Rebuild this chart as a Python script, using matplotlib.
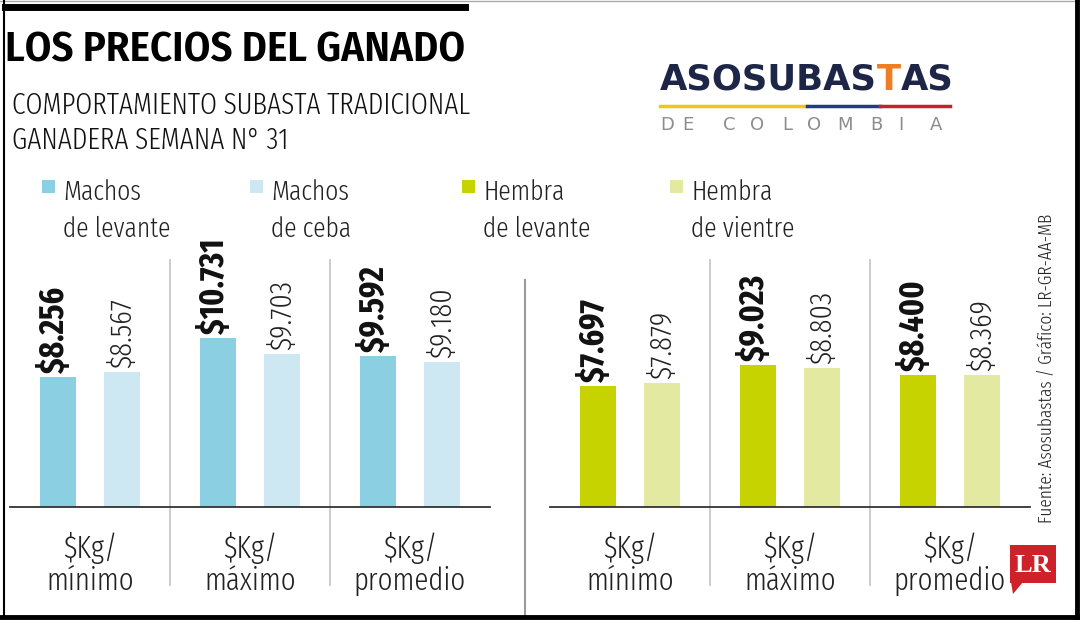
import matplotlib

matplotlib.use("Agg")
import matplotlib.pyplot as plt
from matplotlib.lines import Line2D
from matplotlib.patches import Polygon, Rectangle

COND = ["Fira Sans Extra Condensed", "Fira Sans Condensed", "Asap Condensed", "Barlow Condensed",
        "Saira ExtraCondensed", "DejaVu Sans"]
SEMI = ["Fira Sans Condensed", "Fira Sans", "Lato", "DejaVu Sans"]
plt.rcParams["font.family"] = COND

categorias = ["$Kg/\nmínimo", "$Kg/\nmáximo", "$Kg/\npromedio"]
machos_levante = [8256, 10731, 9592]
machos_ceba = [8567, 9703, 9180]
hembra_levante = [7697, 9023, 8400]
hembra_vientre = [7879, 8803, 8369]
series = ["Machos\nde levante", "Machos\nde ceba", "Hembra\nde levante", "Hembra\nde vientre"]
colores = ["#8bcfe3", "#cde8f2", "#c6d300", "#e3e9a1"]

W, H = 1080, 620
fig = plt.figure(figsize=(W / 100, H / 100), dpi=100)


def fx(px):
    return px / W


def fy(py):
    return 1 - py / H


def fmt(v):
    return f"${v:,}".replace(",", ".")


def fline(x0, y0, x1, y1, **kw):
    fig.add_artist(Line2D([fx(x0), fx(x1)], [fy(y0), fy(y1)], transform=fig.transFigure, **kw))


def fit_width(t, target):
    # ajusta el tamaño de letra para que el texto ocupe el ancho del original
    fig.canvas.draw()
    w = t.get_window_extent().width
    t.set_fontsize(t.get_fontsize() * target / w)


def panel(left, a, b, ca, cb):
    ax = fig.add_axes([fx(left), fy(507), 480 / W, 252 / H])
    x = list(range(len(categorias)))
    ax.bar([i - 0.2 for i in x], a, width=0.222, color=ca)
    ax.bar([i + 0.2 for i in x], b, width=0.222, color=cb)
    for i, v in enumerate(a):
        ax.annotate(fmt(v), (i - 0.22, v), xytext=(0, 3), textcoords="offset points",
                    rotation=90, ha="center", va="bottom", fontsize=24.5, fontweight="bold", color="#111")
    for i, v in enumerate(b):
        ax.annotate(fmt(v), (i + 0.2, v), xytext=(0, 3), textcoords="offset points",
                    rotation=90, ha="center", va="bottom", fontsize=22, fontweight=300, color="#222")
    ax.set_xlim(-0.5, 2.5)
    ax.set_ylim(0, 16000)
    ax.set_xticks(x, categorias)
    ax.set_yticks([])
    ax.tick_params(length=0, pad=18, labelsize=22.5, labelcolor="#222")
    for lbl in ax.get_xticklabels():
        lbl.set_linespacing(1.08)
        lbl.set_fontweight(300)
    for s in ("top", "left", "right"):
        ax.spines[s].set_visible(False)
    ax.spines["bottom"].set_color("#333")
    ax.spines["bottom"].set_linewidth(1.3)
    for sx in (0.5, 1.5):
        ax.axvline(sx, ymin=(507 - 585) / 252, ymax=(507 - 260) / 252,
                   color="#c8c8c8", lw=1.3, clip_on=False)
    return ax


panel(10, machos_levante, machos_ceba, colores[0], colores[1])
panel(550, hembra_levante, hembra_vientre, colores[2], colores[3])

# divisor entre paneles y marco
fline(525, 280, 525, 615, color="#9a9a9a", lw=1.5)
fline(5, 6.5, 465, 6.5, color="black", lw=5)
fline(0, 1, 1080, 1, color="#aaaaaa", lw=1)
fline(3.5, 0, 3.5, 618, color="black", lw=1.5)
fline(0, 616.5, 1080, 616.5, color="black", lw=3.5)
fline(1076.5, 0, 1076.5, 620, color="black", lw=3.5)

# títulos
tt = fig.text(fx(5), fy(61), "LOS PRECIOS DEL GANADO", fontsize=29, fontweight=600,
              family=SEMI, color="black", va="baseline")
fit_width(tt, 460)
s1 = fig.text(fx(12), fy(114), "COMPORTAMIENTO SUBASTA TRADICIONAL", fontsize=22, fontweight=300,
              color="#111", va="baseline")
fit_width(s1, 458)
fig.text(fx(12), fy(149), "GANADERA SEMANA N° 31", fontsize=s1.get_fontsize(), fontweight=300,
         color="#111", va="baseline")

# leyenda
leg_x = [42, 250, 462, 670]
for xs, lab, c in zip(leg_x, series, colores):
    fig.add_artist(Rectangle((fx(xs), fy(193)), 13 / W, 13 / H, transform=fig.transFigure,
                             color=c, lw=0))
    fig.text(fx(xs + 21), fy(179), lab, va="top", ha="left", fontsize=20, fontweight=300,
             linespacing=1.5, color="#222")

# logo Asosubastas
LOGO = ["DejaVu Sans"]
t1 = fig.text(fx(660), fy(90), "ASOSUBAS", fontsize=25.5, fontweight="bold",
              family=LOGO, color="#1d2647", va="baseline")
fig.canvas.draw()
bb = t1.get_window_extent()
t2 = fig.text(bb.x1 / W, fy(90), "T", fontsize=25.5, fontweight="bold",
              family=LOGO, color="#ef7d22", va="baseline")
fig.canvas.draw()
bb = t2.get_window_extent()
fig.text(bb.x1 / W, fy(90), "AS", fontsize=25.5, fontweight="bold",
         family=LOGO, color="#1d2647", va="baseline")
fline(660, 106, 807, 106, color="#f2c618", lw=2.5)
fline(807, 106, 880, 106, color="#24398a", lw=2.5)
fline(880, 106, 950, 106, color="#c8202e", lw=2.5)
for lx, ch in zip([660, 682, 723, 750, 782, 807, 837, 870, 898, 930], "DECOLOMBIA"):
    fig.text(fx(lx), fy(130), ch, fontsize=13, family=LOGO, color="#8c8c8c", va="baseline")

# fuente y logo LR
fig.text(fx(1046), fy(523), "Fuente: Asosubastas / Gráfico: LR-GR-AA-MB", rotation=90,
         ha="center", va="bottom", fontsize=13.5, fontweight=300, color="#222")
fig.add_artist(Rectangle((fx(1010), fy(583)), 46 / W, 38 / H, transform=fig.transFigure,
                         color="#cf2129", lw=0))
fig.add_artist(Polygon([(fx(1011), fy(582)), (fx(1023), fy(582)), (fx(1013), fy(594))],
                       transform=fig.transFigure, color="#cf2129", lw=0))
fig.text(fx(1033), fy(565), "LR", fontsize=19, fontweight="bold",
         family=["Liberation Serif", "DejaVu Serif"], color="white", ha="center", va="center")

fig.savefig("out.png", dpi=100)
